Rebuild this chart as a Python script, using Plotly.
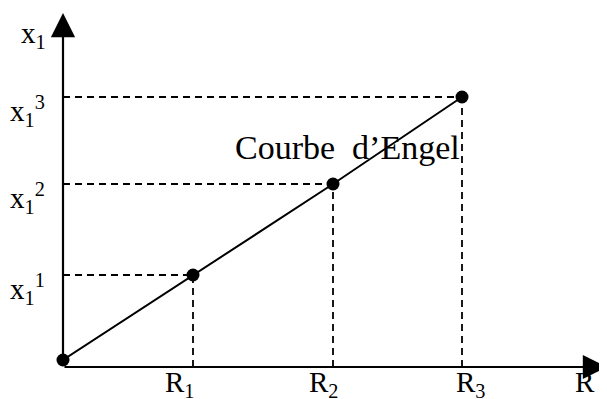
import plotly.graph_objects as go

# Data
R_vals = [1.30, 2.70, 3.99]          # R1, R2, R3
x1_vals = [0.85, 1.76, 2.63]         # x1^1, x1^2, x1^3
R_labels = ["R<sub>1</sub>", "R<sub>2</sub>", "R<sub>3</sub>"]
x1_labels = ["x<sub>1</sub><sup>1</sup>", "x<sub>1</sub><sup>2</sup>", "x<sub>1</sub><sup>3</sup>"]
curve_label = "Courbe\u00a0 d\u2019Engel"

FONT = "Liberation Serif"
X_MAX = 5.44
Y_MIN = -0.07
Y_MAX = 3.52
Y_ARROW = 3.47

fig = go.Figure()

# dashed guide lines
for r, q in zip(R_vals, x1_vals):
    fig.add_trace(go.Scatter(x=[0, r], y=[q, q], mode="lines",
                             line=dict(color="black", width=1.8, dash="7px,5px"),
                             hoverinfo="skip", showlegend=False, cliponaxis=False))
    fig.add_trace(go.Scatter(x=[r, r], y=[Y_MIN, q], mode="lines",
                             line=dict(color="black", width=1.8, dash="7px,5px"),
                             hoverinfo="skip", showlegend=False, cliponaxis=False))

# Engel curve
fig.add_trace(go.Scatter(x=[0] + R_vals, y=[0] + x1_vals, mode="lines+markers",
                         line=dict(color="black", width=2),
                         marker=dict(color="black", size=13),
                         showlegend=False, cliponaxis=False))

ann = []
# axes arrows
ann.append(dict(x=X_MAX, y=Y_MIN, ax=0, ay=Y_MIN, xref="x", yref="y", axref="x", ayref="y",
                text="", showarrow=True, arrowhead=2, arrowsize=2.2, arrowwidth=2.2, arrowcolor="black"))
ann.append(dict(x=0, y=Y_ARROW, ax=0, ay=Y_MIN, xref="x", yref="y", axref="x", ayref="y",
                text="", showarrow=True, arrowhead=2, arrowsize=2.2, arrowwidth=2.2, arrowcolor="black"))

# tick labels
r_shifts = [-14, -10, 8]
for r, lab, sh in zip(R_vals, R_labels, r_shifts):
    ann.append(dict(x=r, y=Y_MIN, xref="x", yref="y", text=lab, showarrow=False,
                    xanchor="center", yanchor="top", xshift=sh, yshift=3,
                    font=dict(family=FONT, size=29, color="black")))
for q, lab in zip(x1_vals, x1_labels):
    ann.append(dict(x=0, y=q, xref="x", yref="y", text=lab, showarrow=False,
                    xanchor="right", yanchor="middle", xshift=-16, yshift=-14,
                    font=dict(family=FONT, size=29, color="black")))

# axis titles
ann.append(dict(x=0, y=Y_ARROW, xref="x", yref="y", text="x<sub>1</sub>", showarrow=False,
                xanchor="right", yanchor="top", xshift=-15, yshift=-2,
                font=dict(family=FONT, size=29, color="black")))
ann.append(dict(x=X_MAX, y=Y_MIN, xref="x", yref="y", text="R", showarrow=False,
                xanchor="right", yanchor="top", xshift=-10, yshift=3,
                font=dict(family=FONT, size=29, color="black")))
ann.append(dict(x=1.70, y=2.13, xref="x", yref="y", text=curve_label, showarrow=False,
                xanchor="left", yanchor="middle",
                font=dict(family=FONT, size=34, color="black")))

# the page body adds an 8px margin: the figure is sized so the plot sits where the reference has it
fig.update_layout(
    width=599, height=391,
    margin=dict(l=55, r=0, t=0, b=32),
    paper_bgcolor="white", plot_bgcolor="white",
    xaxis=dict(range=[0, X_MAX], visible=False, fixedrange=True),
    yaxis=dict(range=[Y_MIN, Y_MAX], visible=False, fixedrange=True),
    annotations=ann,
)

fig.write_html("out.html")
